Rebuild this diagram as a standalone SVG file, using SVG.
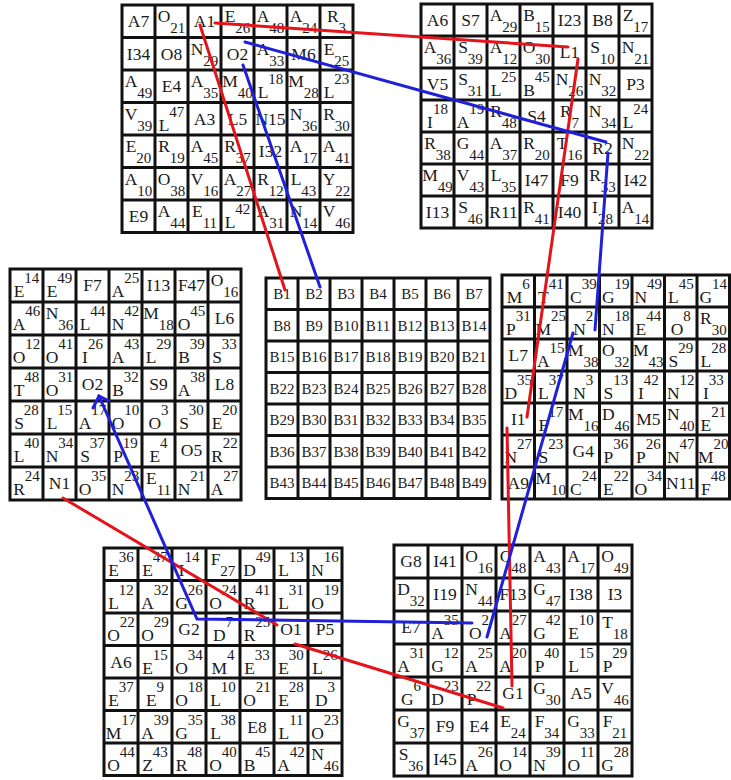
<svg xmlns="http://www.w3.org/2000/svg" width="731" height="780" viewBox="0 0 731 780">
<style>
.grid rect,.grid path{fill:none;stroke:#111;stroke-width:3}
.grid rect{fill:#fff}
.grid text{font-family:"Liberation Serif","DejaVu Serif",serif;font-size:17.5px;text-anchor:middle;fill:#1a1a1a}
.grid tspan{font-size:15px}
.bg text{font-size:15px}
.red{stroke:#e3141b;stroke-width:3;fill:none;stroke-linecap:round}
.blue{stroke:#2020d8;stroke-width:3;fill:none;stroke-linecap:round}
</style>
<rect width="731" height="780" fill="#fff"/>

<g id="grid-tl" class="grid" transform="translate(122,5)">
<rect width="231" height="227.5"/>
<path d="M33 0V227.5M66 0V227.5M99 0V227.5M132 0V227.5M165 0V227.5M198 0V227.5M0 32.5H231M0 65H231M0 97.5H231M0 130H231M0 162.5H231M0 195H231"/>
<g><text x="16.5" y="22">A7</text><text x="49.5" y="17">O<tspan dy="11">21</tspan></text><text x="82.5" y="22">A1</text><text x="115.5" y="17">E<tspan dy="11">26</tspan></text><text x="148.5" y="17">A<tspan dy="11">48</tspan></text><text x="181.5" y="17">A<tspan dy="11">24</tspan></text><text x="214.5" y="17">R<tspan dy="11">3</tspan></text></g>
<g transform="translate(0,32.5)"><text x="16.5" y="22">I34</text><text x="49.5" y="22">O8</text><text x="82.5" y="17">N<tspan dy="11">29</tspan></text><text x="115.5" y="22">O2</text><text x="148.5" y="17">A<tspan dy="11">33</tspan></text><text x="181.5" y="22">M6</text><text x="214.5" y="17">E<tspan dy="11">25</tspan></text></g>
<g transform="translate(0,65)"><text x="16.5" y="17">A<tspan dy="11">49</tspan></text><text x="49.5" y="22">E4</text><text x="82.5" y="17">A<tspan dy="11">35</tspan></text><text x="115.5" y="17">M<tspan dy="11">40</tspan></text><text x="148.5" y="28">L<tspan dy="-14">18</tspan></text><text x="181.5" y="17">M<tspan dy="11">28</tspan></text><text x="214.5" y="28">L<tspan dy="-14">23</tspan></text></g>
<g transform="translate(0,97.5)"><text x="16.5" y="17">V<tspan dy="11">39</tspan></text><text x="49.5" y="28">L<tspan dy="-14">47</tspan></text><text x="82.5" y="22">A3</text><text x="115.5" y="22">L5</text><text x="148.5" y="22">N15</text><text x="181.5" y="17">N<tspan dy="11">36</tspan></text><text x="214.5" y="17">R<tspan dy="11">30</tspan></text></g>
<g transform="translate(0,130)"><text x="16.5" y="17">E<tspan dy="11">20</tspan></text><text x="49.5" y="17">R<tspan dy="11">19</tspan></text><text x="82.5" y="17">A<tspan dy="11">45</tspan></text><text x="115.5" y="17">R<tspan dy="11">37</tspan></text><text x="148.5" y="22">I32</text><text x="181.5" y="17">A<tspan dy="11">17</tspan></text><text x="214.5" y="17">A<tspan dy="11">41</tspan></text></g>
<g transform="translate(0,162.5)"><text x="16.5" y="17">A<tspan dy="11">10</tspan></text><text x="49.5" y="17">O<tspan dy="11">38</tspan></text><text x="82.5" y="17">V<tspan dy="11">16</tspan></text><text x="115.5" y="17">A<tspan dy="11">27</tspan></text><text x="148.5" y="17">R<tspan dy="11">12</tspan></text><text x="181.5" y="17">L<tspan dy="11">43</tspan></text><text x="214.5" y="17">Y<tspan dy="11">22</tspan></text></g>
<g transform="translate(0,195)"><text x="16.5" y="22">E9</text><text x="49.5" y="17">A<tspan dy="11">44</tspan></text><text x="82.5" y="17">E<tspan dy="11">11</tspan></text><text x="115.5" y="28">L<tspan dy="-14">42</tspan></text><text x="148.5" y="17">A<tspan dy="11">31</tspan></text><text x="181.5" y="17">N<tspan dy="11">14</tspan></text><text x="214.5" y="17">V<tspan dy="11">46</tspan></text></g>
</g>

<g id="grid-tr" class="grid" transform="translate(421,4)">
<rect width="231" height="224"/>
<path d="M33 0V224M66 0V224M99 0V224M132 0V224M165 0V224M198 0V224M0 32H231M0 64H231M0 96H231M0 128H231M0 160H231M0 192H231"/>
<g><text x="16.5" y="22">A6</text><text x="49.5" y="22">S7</text><text x="82.5" y="17">A<tspan dy="11">29</tspan></text><text x="115.5" y="17">B<tspan dy="11">15</tspan></text><text x="148.5" y="22">I23</text><text x="181.5" y="22">B8</text><text x="214.5" y="17">Z<tspan dy="11">17</tspan></text></g>
<g transform="translate(0,32)"><text x="16.5" y="17">A<tspan dy="11">36</tspan></text><text x="49.5" y="17">S<tspan dy="11">39</tspan></text><text x="82.5" y="17">A<tspan dy="11">12</tspan></text><text x="115.5" y="17">O<tspan dy="11">30</tspan></text><text x="148.5" y="22">L1</text><text x="181.5" y="17">S<tspan dy="11">10</tspan></text><text x="214.5" y="17">N<tspan dy="11">21</tspan></text></g>
<g transform="translate(0,64)"><text x="16.5" y="22">V5</text><text x="49.5" y="17">S<tspan dy="11">31</tspan></text><text x="82.5" y="28">L<tspan dy="-14">25</tspan></text><text x="115.5" y="28">B<tspan dy="-14">45</tspan></text><text x="148.5" y="17">N<tspan dy="11">26</tspan></text><text x="181.5" y="17">N<tspan dy="11">32</tspan></text><text x="214.5" y="22">P3</text></g>
<g transform="translate(0,96)"><text x="16.5" y="28">I<tspan dy="-14">18</tspan></text><text x="49.5" y="28">A<tspan dy="-14">19</tspan></text><text x="82.5" y="17">R<tspan dy="11">48</tspan></text><text x="115.5" y="22">S4</text><text x="148.5" y="17">R<tspan dy="11">7</tspan></text><text x="181.5" y="17">N<tspan dy="11">34</tspan></text><text x="214.5" y="28">L<tspan dy="-14">24</tspan></text></g>
<g transform="translate(0,128)"><text x="16.5" y="17">R<tspan dy="11">38</tspan></text><text x="49.5" y="17">G<tspan dy="11">44</tspan></text><text x="82.5" y="17">A<tspan dy="11">37</tspan></text><text x="115.5" y="17">R<tspan dy="11">20</tspan></text><text x="148.5" y="17">T<tspan dy="11">16</tspan></text><text x="181.5" y="22">R2</text><text x="214.5" y="17">N<tspan dy="11">22</tspan></text></g>
<g transform="translate(0,160)"><text x="16.5" y="17">M<tspan dy="11">49</tspan></text><text x="49.5" y="17">V<tspan dy="11">43</tspan></text><text x="82.5" y="17">L<tspan dy="11">35</tspan></text><text x="115.5" y="22">I47</text><text x="148.5" y="22">F9</text><text x="181.5" y="17">R<tspan dy="11">33</tspan></text><text x="214.5" y="22">I42</text></g>
<g transform="translate(0,192)"><text x="16.5" y="22">I13</text><text x="49.5" y="17">S<tspan dy="11">46</tspan></text><text x="82.5" y="22">R11</text><text x="115.5" y="17">R<tspan dy="11">41</tspan></text><text x="148.5" y="22">I40</text><text x="181.5" y="17">I<tspan dy="11">28</tspan></text><text x="214.5" y="17">A<tspan dy="11">14</tspan></text></g>
</g>

<g id="grid-ml" class="grid" transform="translate(10,269)">
<rect width="231" height="231"/>
<path d="M33 0V231M66 0V231M99 0V231M132 0V231M165 0V231M198 0V231M0 33H231M0 66H231M0 99H231M0 132H231M0 165H231M0 198H231"/>
<g><text x="16.5" y="28">E<tspan dy="-14">14</tspan></text><text x="49.5" y="28">E<tspan dy="-14">49</tspan></text><text x="82.5" y="22">F7</text><text x="115.5" y="28">A<tspan dy="-14">25</tspan></text><text x="148.5" y="22">I13</text><text x="181.5" y="22">F47</text><text x="214.5" y="17">O<tspan dy="11">16</tspan></text></g>
<g transform="translate(0,33)"><text x="16.5" y="28">A<tspan dy="-14">46</tspan></text><text x="49.5" y="17">N<tspan dy="11">36</tspan></text><text x="82.5" y="28">L<tspan dy="-14">44</tspan></text><text x="115.5" y="28">N<tspan dy="-14">42</tspan></text><text x="148.5" y="17">M<tspan dy="11">18</tspan></text><text x="181.5" y="28">O<tspan dy="-14">45</tspan></text><text x="214.5" y="22">L6</text></g>
<g transform="translate(0,66)"><text x="16.5" y="28">O<tspan dy="-14">12</tspan></text><text x="49.5" y="28">O<tspan dy="-14">41</tspan></text><text x="82.5" y="28">I<tspan dy="-14">26</tspan></text><text x="115.5" y="28">A<tspan dy="-14">43</tspan></text><text x="148.5" y="28">L<tspan dy="-14">29</tspan></text><text x="181.5" y="28">B<tspan dy="-14">39</tspan></text><text x="214.5" y="28">S<tspan dy="-14">33</tspan></text></g>
<g transform="translate(0,99)"><text x="16.5" y="28">T<tspan dy="-14">48</tspan></text><text x="49.5" y="28">O<tspan dy="-14">31</tspan></text><text x="82.5" y="22">O2</text><text x="115.5" y="28">B<tspan dy="-14">32</tspan></text><text x="148.5" y="22">S9</text><text x="181.5" y="28">A<tspan dy="-14">38</tspan></text><text x="214.5" y="22">L8</text></g>
<g transform="translate(0,132)"><text x="16.5" y="28">S<tspan dy="-14">28</tspan></text><text x="49.5" y="28">L<tspan dy="-14">15</tspan></text><text x="82.5" y="28">A<tspan dy="-14">17</tspan></text><text x="115.5" y="28">O<tspan dy="-14">10</tspan></text><text x="148.5" y="28">O<tspan dy="-14">3</tspan></text><text x="181.5" y="28">S<tspan dy="-14">30</tspan></text><text x="214.5" y="28">E<tspan dy="-14">20</tspan></text></g>
<g transform="translate(0,165)"><text x="16.5" y="28">L<tspan dy="-14">40</tspan></text><text x="49.5" y="28">N<tspan dy="-14">34</tspan></text><text x="82.5" y="28">S<tspan dy="-14">37</tspan></text><text x="115.5" y="28">P<tspan dy="-14">19</tspan></text><text x="148.5" y="28">E<tspan dy="-14">4</tspan></text><text x="181.5" y="22">O5</text><text x="214.5" y="28">R<tspan dy="-14">22</tspan></text></g>
<g transform="translate(0,198)"><text x="16.5" y="28">R<tspan dy="-14">24</tspan></text><text x="49.5" y="22">N1</text><text x="82.5" y="28">O<tspan dy="-14">35</tspan></text><text x="115.5" y="28">N<tspan dy="-14">23</tspan></text><text x="148.5" y="17">E<tspan dy="11">11</tspan></text><text x="181.5" y="28">N<tspan dy="-14">21</tspan></text><text x="214.5" y="28">A<tspan dy="-14">27</tspan></text></g>
</g>

<g id="grid-b" class="grid bg" transform="translate(266,278)">
<rect width="224" height="220.5"/>
<path d="M32 0V220.5M64 0V220.5M96 0V220.5M128 0V220.5M160 0V220.5M192 0V220.5M0 31.5H224M0 63H224M0 94.5H224M0 126H224M0 157.5H224M0 189H224"/>
<g><text x="16" y="21">B1</text><text x="48" y="21">B2</text><text x="80" y="21">B3</text><text x="112" y="21">B4</text><text x="144" y="21">B5</text><text x="176" y="21">B6</text><text x="208" y="21">B7</text></g>
<g transform="translate(0,31.5)"><text x="16" y="21">B8</text><text x="48" y="21">B9</text><text x="80" y="21">B10</text><text x="112" y="21">B11</text><text x="144" y="21">B12</text><text x="176" y="21">B13</text><text x="208" y="21">B14</text></g>
<g transform="translate(0,63)"><text x="16" y="21">B15</text><text x="48" y="21">B16</text><text x="80" y="21">B17</text><text x="112" y="21">B18</text><text x="144" y="21">B19</text><text x="176" y="21">B20</text><text x="208" y="21">B21</text></g>
<g transform="translate(0,94.5)"><text x="16" y="21">B22</text><text x="48" y="21">B23</text><text x="80" y="21">B24</text><text x="112" y="21">B25</text><text x="144" y="21">B26</text><text x="176" y="21">B27</text><text x="208" y="21">B28</text></g>
<g transform="translate(0,126)"><text x="16" y="21">B29</text><text x="48" y="21">B30</text><text x="80" y="21">B31</text><text x="112" y="21">B32</text><text x="144" y="21">B33</text><text x="176" y="21">B34</text><text x="208" y="21">B35</text></g>
<g transform="translate(0,157.5)"><text x="16" y="21">B36</text><text x="48" y="21">B37</text><text x="80" y="21">B38</text><text x="112" y="21">B39</text><text x="144" y="21">B40</text><text x="176" y="21">B41</text><text x="208" y="21">B42</text></g>
<g transform="translate(0,189)"><text x="16" y="21">B43</text><text x="48" y="21">B44</text><text x="80" y="21">B45</text><text x="112" y="21">B46</text><text x="144" y="21">B47</text><text x="176" y="21">B48</text><text x="208" y="21">B49</text></g>
</g>

<g id="grid-mr" class="grid" transform="translate(502,275)">
<rect width="227.5" height="224"/>
<path d="M32.5 0V224M65 0V224M97.5 0V224M130 0V224M162.5 0V224M195 0V224M0 32H227.5M0 64H227.5M0 96H227.5M0 128H227.5M0 160H227.5M0 192H227.5"/>
<g><text x="16.3" y="28">M<tspan dy="-14">6</tspan></text><text x="48.8" y="28">T<tspan dy="-14">41</tspan></text><text x="81.3" y="28">C<tspan dy="-14">39</tspan></text><text x="113.8" y="28">G<tspan dy="-14">19</tspan></text><text x="146.3" y="28">N<tspan dy="-14">49</tspan></text><text x="178.8" y="28">L<tspan dy="-14">45</tspan></text><text x="211.3" y="28">G<tspan dy="-14">14</tspan></text></g>
<g transform="translate(0,32)"><text x="16.3" y="28">P<tspan dy="-14">31</tspan></text><text x="48.8" y="28">M<tspan dy="-14">25</tspan></text><text x="81.3" y="28">N<tspan dy="-14">2</tspan></text><text x="113.8" y="28">N<tspan dy="-14">18</tspan></text><text x="146.3" y="28">E<tspan dy="-14">44</tspan></text><text x="178.8" y="28">O<tspan dy="-14">8</tspan></text><text x="211.3" y="17">R<tspan dy="11">30</tspan></text></g>
<g transform="translate(0,64)"><text x="16.3" y="22">L7</text><text x="48.8" y="28">A<tspan dy="-14">15</tspan></text><text x="81.3" y="17">M<tspan dy="11">38</tspan></text><text x="113.8" y="17">O<tspan dy="11">32</tspan></text><text x="146.3" y="17">M<tspan dy="11">43</tspan></text><text x="178.8" y="28">S<tspan dy="-14">29</tspan></text><text x="211.3" y="28">L<tspan dy="-14">28</tspan></text></g>
<g transform="translate(0,96)"><text x="16.3" y="28">D<tspan dy="-14">35</tspan></text><text x="48.8" y="28">L<tspan dy="-14">37</tspan></text><text x="81.3" y="28">N<tspan dy="-14">3</tspan></text><text x="113.8" y="28">S<tspan dy="-14">13</tspan></text><text x="146.3" y="28">I<tspan dy="-14">42</tspan></text><text x="178.8" y="28">N<tspan dy="-14">12</tspan></text><text x="211.3" y="28">I<tspan dy="-14">33</tspan></text></g>
<g transform="translate(0,128)"><text x="16.3" y="22">I1</text><text x="48.8" y="28">F<tspan dy="-14">17</tspan></text><text x="81.3" y="17">M<tspan dy="11">16</tspan></text><text x="113.8" y="17">D<tspan dy="11">46</tspan></text><text x="146.3" y="22">M5</text><text x="178.8" y="17">N<tspan dy="11">40</tspan></text><text x="211.3" y="28">E<tspan dy="-14">21</tspan></text></g>
<g transform="translate(0,160)"><text x="16.3" y="28">N<tspan dy="-14">27</tspan></text><text x="48.8" y="28">S<tspan dy="-14">23</tspan></text><text x="81.3" y="22">G4</text><text x="113.8" y="28">P<tspan dy="-14">36</tspan></text><text x="146.3" y="28">P<tspan dy="-14">26</tspan></text><text x="178.8" y="28">N<tspan dy="-14">47</tspan></text><text x="211.3" y="28">M<tspan dy="-14">20</tspan></text></g>
<g transform="translate(0,192)"><text x="16.3" y="22">A9</text><text x="48.8" y="17">M<tspan dy="11">10</tspan></text><text x="81.3" y="28">C<tspan dy="-14">24</tspan></text><text x="113.8" y="28">E<tspan dy="-14">22</tspan></text><text x="146.3" y="28">O<tspan dy="-14">34</tspan></text><text x="178.8" y="22">N11</text><text x="211.3" y="28">F<tspan dy="-14">48</tspan></text></g>
</g>

<g id="grid-bl" class="grid" transform="translate(104,548)">
<rect width="238" height="227.5"/>
<path d="M34 0V227.5M68 0V227.5M102 0V227.5M136 0V227.5M170 0V227.5M204 0V227.5M0 32.5H238M0 65H238M0 97.5H238M0 130H238M0 162.5H238M0 195H238"/>
<g><text x="17" y="28">E<tspan dy="-14">36</tspan></text><text x="51" y="28">E<tspan dy="-14">47</tspan></text><text x="85" y="28">I<tspan dy="-14">14</tspan></text><text x="119" y="17">F<tspan dy="11">27</tspan></text><text x="153" y="28">D<tspan dy="-14">49</tspan></text><text x="187" y="28">L<tspan dy="-14">13</tspan></text><text x="221" y="28">N<tspan dy="-14">16</tspan></text></g>
<g transform="translate(0,32.5)"><text x="17" y="28">L<tspan dy="-14">12</tspan></text><text x="51" y="28">A<tspan dy="-14">32</tspan></text><text x="85" y="28">G<tspan dy="-14">26</tspan></text><text x="119" y="28">O<tspan dy="-14">24</tspan></text><text x="153" y="28">R<tspan dy="-14">41</tspan></text><text x="187" y="28">L<tspan dy="-14">31</tspan></text><text x="221" y="28">O<tspan dy="-14">19</tspan></text></g>
<g transform="translate(0,65)"><text x="17" y="28">O<tspan dy="-14">22</tspan></text><text x="51" y="28">O<tspan dy="-14">29</tspan></text><text x="85" y="22">G2</text><text x="119" y="28">D<tspan dy="-14">7</tspan></text><text x="153" y="28">R<tspan dy="-14">25</tspan></text><text x="187" y="22">O1</text><text x="221" y="22">P5</text></g>
<g transform="translate(0,97.5)"><text x="17" y="22">A6</text><text x="51" y="28">E<tspan dy="-14">15</tspan></text><text x="85" y="28">O<tspan dy="-14">34</tspan></text><text x="119" y="28">M<tspan dy="-14">4</tspan></text><text x="153" y="28">E<tspan dy="-14">33</tspan></text><text x="187" y="28">E<tspan dy="-14">30</tspan></text><text x="221" y="28">L<tspan dy="-14">26</tspan></text></g>
<g transform="translate(0,130)"><text x="17" y="28">E<tspan dy="-14">37</tspan></text><text x="51" y="28">E<tspan dy="-14">9</tspan></text><text x="85" y="28">O<tspan dy="-14">18</tspan></text><text x="119" y="28">L<tspan dy="-14">10</tspan></text><text x="153" y="28">O<tspan dy="-14">21</tspan></text><text x="187" y="28">E<tspan dy="-14">28</tspan></text><text x="221" y="28">D<tspan dy="-14">3</tspan></text></g>
<g transform="translate(0,162.5)"><text x="17" y="28">M<tspan dy="-14">17</tspan></text><text x="51" y="28">A<tspan dy="-14">39</tspan></text><text x="85" y="28">G<tspan dy="-14">35</tspan></text><text x="119" y="28">L<tspan dy="-14">38</tspan></text><text x="153" y="22">E8</text><text x="187" y="28">L<tspan dy="-14">11</tspan></text><text x="221" y="28">O<tspan dy="-14">23</tspan></text></g>
<g transform="translate(0,195)"><text x="17" y="28">O<tspan dy="-14">44</tspan></text><text x="51" y="28">Z<tspan dy="-14">43</tspan></text><text x="85" y="28">R<tspan dy="-14">48</tspan></text><text x="119" y="28">O<tspan dy="-14">40</tspan></text><text x="153" y="28">B<tspan dy="-14">45</tspan></text><text x="187" y="28">A<tspan dy="-14">42</tspan></text><text x="221" y="17">N<tspan dy="11">46</tspan></text></g>
</g>

<g id="grid-br" class="grid" transform="translate(394,545)">
<rect width="238" height="231"/>
<path d="M34 0V231M68 0V231M102 0V231M136 0V231M170 0V231M204 0V231M0 33H238M0 66H238M0 99H238M0 132H238M0 165H238M0 198H238"/>
<g><text x="17" y="22">G8</text><text x="51" y="22">I41</text><text x="85" y="17">O<tspan dy="11">16</tspan></text><text x="119" y="17">C<tspan dy="11">48</tspan></text><text x="153" y="17">A<tspan dy="11">43</tspan></text><text x="187" y="17">A<tspan dy="11">17</tspan></text><text x="221" y="17">O<tspan dy="11">49</tspan></text></g>
<g transform="translate(0,33)"><text x="17" y="17">D<tspan dy="11">32</tspan></text><text x="51" y="22">I19</text><text x="85" y="17">N<tspan dy="11">44</tspan></text><text x="119" y="22">F13</text><text x="153" y="17">G<tspan dy="11">47</tspan></text><text x="187" y="22">I38</text><text x="221" y="22">I3</text></g>
<g transform="translate(0,66)"><text x="17" y="22">E7</text><text x="51" y="28">A<tspan dy="-14">35</tspan></text><text x="85" y="28">O<tspan dy="-14">2</tspan></text><text x="119" y="28">A<tspan dy="-14">27</tspan></text><text x="153" y="28">G<tspan dy="-14">42</tspan></text><text x="187" y="28">E<tspan dy="-14">10</tspan></text><text x="221" y="17">T<tspan dy="11">18</tspan></text></g>
<g transform="translate(0,99)"><text x="17" y="28">A<tspan dy="-14">31</tspan></text><text x="51" y="28">G<tspan dy="-14">12</tspan></text><text x="85" y="28">A<tspan dy="-14">25</tspan></text><text x="119" y="28">A<tspan dy="-14">20</tspan></text><text x="153" y="28">P<tspan dy="-14">40</tspan></text><text x="187" y="28">L<tspan dy="-14">15</tspan></text><text x="221" y="28">P<tspan dy="-14">29</tspan></text></g>
<g transform="translate(0,132)"><text x="17" y="28">G<tspan dy="-14">6</tspan></text><text x="51" y="28">D<tspan dy="-14">23</tspan></text><text x="85" y="28">P<tspan dy="-14">22</tspan></text><text x="119" y="22">G1</text><text x="153" y="17">G<tspan dy="11">30</tspan></text><text x="187" y="22">A5</text><text x="221" y="17">V<tspan dy="11">46</tspan></text></g>
<g transform="translate(0,165)"><text x="17" y="17">G<tspan dy="11">37</tspan></text><text x="51" y="22">F9</text><text x="85" y="22">E4</text><text x="119" y="17">E<tspan dy="11">24</tspan></text><text x="153" y="17">F<tspan dy="11">34</tspan></text><text x="187" y="17">G<tspan dy="11">33</tspan></text><text x="221" y="17">F<tspan dy="11">21</tspan></text></g>
<g transform="translate(0,198)"><text x="17" y="17">S<tspan dy="11">36</tspan></text><text x="51" y="22">I45</text><text x="85" y="28">A<tspan dy="-14">26</tspan></text><text x="119" y="28">O<tspan dy="-14">14</tspan></text><text x="153" y="28">N<tspan dy="-14">39</tspan></text><text x="187" y="28">O<tspan dy="-14">11</tspan></text><text x="221" y="28">G<tspan dy="-14">28</tspan></text></g>
</g>

<g id="connectors">
<path class="red" d="M215 23L568 47"/>
<path class="red" d="M200 25L285 290"/>
<path class="red" d="M578 59L527 417"/>
<path class="red" d="M507 428L512 686"/>
<path class="red" d="M503 708L295 644"/>
<path class="red" d="M63 498L277 625"/>
<path class="blue" d="M245 42L606 142"/>
<path class="blue" d="M243 65L320 287"/>
<path class="blue" d="M608 153L595 330"/>
<path class="blue" d="M573 333L487 637"/>
<path class="blue" d="M472 623L197 619L99 396"/>
<path class="blue" d="M93 408L99 396L109 401" stroke-width="2"/>
</g>
</svg>
